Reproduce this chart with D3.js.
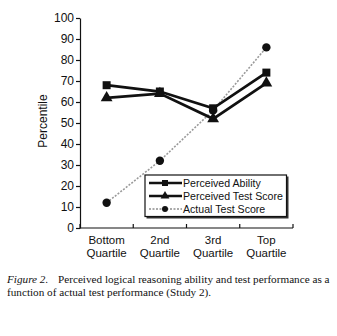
<!DOCTYPE html>
<html>
<head>
<meta charset="utf-8">
<script src="https://cdn.jsdelivr.net/npm/d3@7"></script>
<style>
  html, body { margin: 0; padding: 0; background: #fff; }
  svg { display: block; }
</style>
</head>
<body>
<div id="chart"></div>
<script>
// Quartile groups and percentile scores per series
const categories = [["Bottom", "Quartile"], ["2nd", "Quartile"], ["3rd", "Quartile"], ["Top", "Quartile"]];
const perceivedAbility = [68, 65, 57, 74];
const perceivedTestScore = [62, 64, 52, 69];
const actualTestScore = [12, 32, 56, 86];
const yTicks = [0, 10, 20, 30, 40, 50, 60, 70, 80, 90, 100];
const seriesNames = ["Perceived Ability", "Perceived Test Score", "Actual Test Score"];
const captionLead = "Figure 2.";
const captionLines = ["Perceived logical reasoning ability and test performance as a",
                      "function of actual test performance (Study 2)."];

const W = 337, H = 336;
const svg = d3.select("#chart").append("svg").attr("width", W).attr("height", H);

const x = d3.scaleBand().domain(d3.range(categories.length)).range([80, 293]);
const y = d3.scaleLinear().domain([0, 100]).range([228, 18]);
const cx = i => x(i) + x.bandwidth() / 2;

const sans = "'Liberation Sans', Arial, sans-serif";

// y axis
const yAxis = d3.axisLeft(y).tickValues(yTicks).tickSize(4).tickSizeOuter(0);
const gy = svg.append("g").attr("transform", "translate(80,0)").call(yAxis);
gy.select(".domain").attr("stroke", "#111").attr("stroke-width", 1.2);
gy.selectAll(".tick line").attr("stroke", "#111").attr("stroke-width", 1.2);
gy.selectAll(".tick text").attr("font-family", sans).attr("font-size", 12).attr("fill", "#111").attr("x", -6);

// x axis with ticks at band edges
const gx = svg.append("g").attr("transform", "translate(0,228)");
gx.append("line").attr("x1", 80).attr("x2", 293).attr("stroke", "#111").attr("stroke-width", 1.2);
const edges = categories.map((c, i) => x(i)).concat([x(categories.length - 1) + x.bandwidth()]);
gx.selectAll(".edge").data(edges).enter().append("line")
  .attr("x1", d => d).attr("x2", d => d).attr("y1", 0).attr("y2", -4)
  .attr("stroke", "#111").attr("stroke-width", 1.2);
categories.forEach((d, i) => {
  d.forEach((line, k) => {
    gx.append("text").attr("x", cx(i)).attr("y", 16 + k * 13)
      .attr("text-anchor", "middle").attr("font-family", sans).attr("font-size", 11.5).attr("fill", "#111")
      .text(line);
  });
});

// y axis title
svg.append("text").attr("transform", "translate(47,121) rotate(-90)")
  .attr("text-anchor", "middle").attr("font-family", sans).attr("font-size", 12).attr("fill", "#111")
  .text("Percentile");

const line = d3.line().x((d, i) => cx(i)).y(d => y(d));

// actual test score: light dashed line with round markers
svg.append("path").datum(actualTestScore).attr("d", line).attr("fill", "none")
  .attr("stroke", "#9a9a9a").attr("stroke-width", 1.6).attr("stroke-dasharray", "2,1.5");

// perceived lines
svg.append("path").datum(perceivedTestScore).attr("d", line).attr("fill", "none")
  .attr("stroke", "#111").attr("stroke-width", 2.8);
svg.append("path").datum(perceivedAbility).attr("d", line).attr("fill", "none")
  .attr("stroke", "#111").attr("stroke-width", 2.8);

const sym = (type, size) => d3.symbol().type(type).size(size)();

svg.selectAll(".pa").data(perceivedAbility).enter().append("path")
  .attr("d", sym(d3.symbolSquare, 64)).attr("fill", "#111")
  .attr("transform", (d, i) => `translate(${cx(i)},${y(d)})`);
svg.selectAll(".pt").data(perceivedTestScore).enter().append("path")
  .attr("d", sym(d3.symbolTriangle, 60)).attr("fill", "#111")
  .attr("transform", (d, i) => `translate(${cx(i)},${y(d)})`);
svg.selectAll(".at").data(actualTestScore).enter().append("circle")
  .attr("r", 4.2).attr("fill", "#111")
  .attr("cx", (d, i) => cx(i)).attr("cy", d => y(d));

// legend
const lg = svg.append("g");
lg.append("rect").attr("x", 146.5).attr("y", 176.5).attr("width", 142).attr("height", 42)
  .attr("fill", "#333");
lg.append("rect").attr("x", 145).attr("y", 175).attr("width", 141.5).attr("height", 41.5)
  .attr("fill", "#fff").attr("stroke", "#111").attr("stroke-width", 1.2);
const rows = [183, 196, 209];
seriesNames.forEach((name, k) => {
  const yy = rows[k];
  if (k < 2) {
    lg.append("line").attr("x1", 149).attr("x2", 182).attr("y1", yy).attr("y2", yy)
      .attr("stroke", "#111").attr("stroke-width", 2.4);
  } else {
    lg.append("line").attr("x1", 149).attr("x2", 182).attr("y1", yy).attr("y2", yy)
      .attr("stroke", "#555").attr("stroke-width", 1.2).attr("stroke-dasharray", "2,1.5");
  }
  const mt = `translate(165,${yy})`;
  if (k === 0) lg.append("path").attr("d", sym(d3.symbolSquare, 36)).attr("fill", "#111").attr("transform", mt);
  if (k === 1) lg.append("path").attr("d", sym(d3.symbolTriangle, 34)).attr("fill", "#111").attr("transform", mt);
  if (k === 2) lg.append("circle").attr("cx", 165).attr("cy", yy).attr("r", 3).attr("fill", "#111");
  lg.append("text").attr("x", 183).attr("y", yy + 4).attr("font-family", sans).attr("font-size", 10.6)
    .attr("fill", "#111").text(name);
});

// caption
const serif = "'Liberation Serif', 'Times New Roman', serif";
const cap = svg.append("text").attr("font-family", serif).attr("font-size", 11.2).attr("fill", "#111");
cap.append("tspan").attr("x", 7).attr("y", 283).attr("font-style", "italic").text(captionLead);
cap.append("tspan").attr("x", 58).attr("y", 283).text(captionLines[0]);
svg.append("text").attr("font-family", serif).attr("font-size", 11.2).attr("fill", "#111")
  .attr("x", 7).attr("y", 296).text(captionLines[1]);
</script>
</body>
</html>
